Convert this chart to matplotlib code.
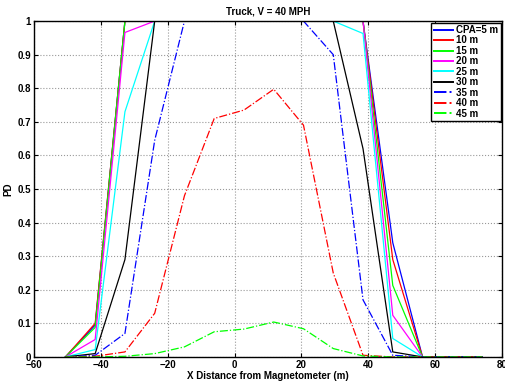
import matplotlib
matplotlib.use('Agg')
import matplotlib.pyplot as plt
import numpy as np

plt.rcParams['font.family'] = 'Liberation Sans'
plt.rcParams['font.weight'] = 'bold'
plt.rcParams['font.size'] = 7

# sample positions along the road (m)
x = np.linspace(-50.6, 74.0, 15)

labels = ['CPA=5 m', '10 m', '15 m', '20 m', '25 m', '30 m', '35 m', '40 m', '45 m']
pd_5 = [0, 0.095, 1, 1, 1, 1, 1, 1, 1, 1, 1, 0.34, 0, 0, 0]
pd_10 = [0, 0.10, 1, 1, 1, 1, 1, 1, 1, 1, 1, 0.29, 0, 0, 0]
pd_15 = [0, 0.088, 1, 1, 1, 1, 1, 1, 1, 1, 1, 0.213, 0, 0, 0]
pd_20 = [0, 0.052, 0.966, 1, 1, 1, 1, 1, 1, 1, 1, 0.124, 0, 0, 0]
pd_25 = [0, 0.022, 0.73, 1, 1, 1, 1, 1, 1, 1, 0.963, 0.055, 0, 0, 0]
pd_30 = [0, 0.01, 0.29, 1, 1, 1, 1, 1, 1, 1, 0.62, 0.015, 0, 0, 0]
pd_35 = [0, 0.005, 0.07, 0.645, 1, 1, 1, 1, 1, 0.90, 0.17, 0.005, 0, 0, 0]
pd_40 = [0, 0.002, 0.015, 0.13, 0.48, 0.71, 0.735, 0.797, 0.69, 0.25, 0.005, 0, 0, 0, 0]
pd_45 = [0, 0, 0.002, 0.01, 0.03, 0.075, 0.083, 0.104, 0.084, 0.025, 0.003, 0, 0, 0, 0]

series = [pd_5, pd_10, pd_15, pd_20, pd_25, pd_30, pd_35, pd_40, pd_45]
colors = ['#0000ff', '#ff0000', '#00ff00', '#ff00ff', '#00ffff', '#000000',
          '#0000ff', '#ff0000', '#00ff00']
styles = ['-'] * 6 + ['-.'] * 3

fig = plt.figure(figsize=(5.05, 3.83), dpi=100)
ax = fig.add_axes([0.0673, 0.068, 0.927, 0.877])

for y, c, ls, lab in zip(series, colors, styles, labels):
    ax.plot(x, y, color=c, linestyle=ls, linewidth=0.9, label=lab)

ax.set_xlim(-60, 80)
ax.set_ylim(0, 1)
ax.set_xticks(np.arange(-60, 81, 20))
ax.set_yticks(np.arange(0, 1.01, 0.1))
ax.set_yticklabels(['0', '0.1', '0.2', '0.3', '0.4', '0.5', '0.6', '0.7', '0.8', '0.9', '1'])
ax.grid(True, linestyle=':', color='#999999', linewidth=0.8)
ax.tick_params(direction='in', top=True, right=True, length=3, width=0.8, pad=2)
for s in ax.spines.values():
    s.set_linewidth(1.0)

ax.set_title('Truck, V = 40 MPH', fontsize=7, fontweight='bold', pad=5)
ax.set_xlabel('X Distance from Magnetometer (m)', fontsize=7, fontweight='bold', labelpad=1)
ax.set_ylabel('PD', fontsize=7, fontweight='bold', labelpad=3)

leg = ax.legend(loc='upper right', fontsize=7, fancybox=False, framealpha=1,
                edgecolor='black', handlelength=2.0, handletextpad=0.3,
                labelspacing=0.05, borderpad=0.25, borderaxespad=0.15)
leg.get_frame().set_linewidth(1.0)
for h in leg.get_lines():
    h.set_linewidth(1.4)

fig.savefig('out.png', dpi=100)
